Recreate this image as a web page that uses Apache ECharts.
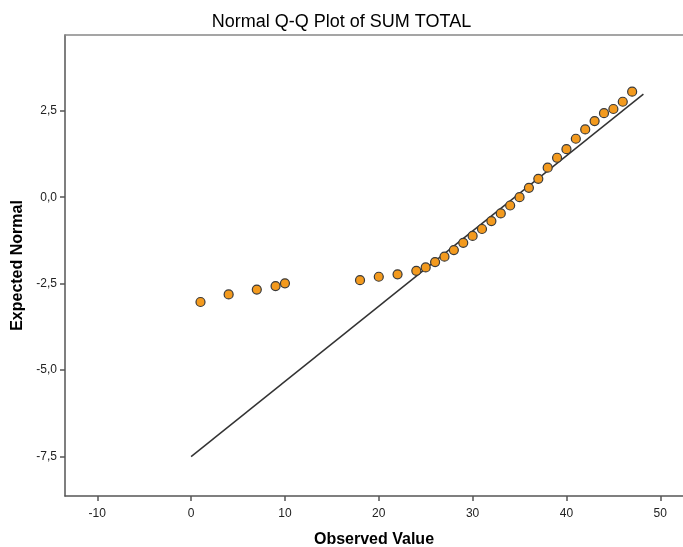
<!DOCTYPE html>
<html>
<head>
<meta charset="utf-8">
<script src="https://cdn.jsdelivr.net/npm/echarts@6/dist/echarts.min.js"></script>
<style>html,body{margin:0;padding:0;background:#fff}#c{width:683px;height:547px}</style>
</head>
<body>
<div id="c"></div>
<script>
var observed = [1, 4, 7, 9, 10, 18, 20, 22, 24, 25, 26, 27, 28, 29, 30, 31, 32, 33, 34, 35, 36, 37, 38, 39, 40, 41, 42, 43, 44, 45, 46, 47];
var expected = [-3.03, -2.81, -2.67, -2.57, -2.49, -2.40, -2.30, -2.23, -2.13, -2.03, -1.875, -1.72, -1.53, -1.32, -1.12, -0.92, -0.69, -0.47, -0.24, 0.0, 0.27, 0.53, 0.855, 1.14, 1.39, 1.69, 1.96, 2.20, 2.43, 2.55, 2.76, 3.05];
var lineX = [0, 48.2];
var lineY = [-7.5, 2.98];
var xTicks = [-10, 0, 10, 20, 30, 40, 50];
var yTicks = [-7.5, -5.0, -2.5, 0.0, 2.5];

var font = 'Liberation Sans, Arial, sans-serif';
var chart = echarts.init(document.getElementById('c'));
chart.setOption({
  animation: false,
  backgroundColor: '#fff',
  title: {
    text: 'Normal Q-Q Plot of SUM TOTAL',
    left: 'center', top: 8,
    textStyle: { fontFamily: font, fontSize: 18, fontWeight: 'normal', color: '#000' }
  },
  grid: { left: 65, right: 0, top: 35, bottom: 51, outerBoundsMode: 'none', containLabel: false },
  xAxis: [{
    type: 'value', min: -13.44, max: 52.42,
    name: 'Observed Value', nameLocation: 'middle', nameGap: 36,
    nameTextStyle: { fontFamily: font, fontSize: 16, fontWeight: 'bold', color: '#000' },
    splitLine: { show: false },
    axisLine: { onZero: false, lineStyle: { color: '#555', width: 1.5 } },
    axisTick: { customValues: xTicks, length: 5, lineStyle: { color: '#555', width: 1.5 } },
    axisLabel: { customValues: xTicks, margin: 12, fontFamily: font, fontSize: 12, color: '#222' }
  }, {
    type: 'value', position: 'top', min: -13.44, max: 52.42,
    splitLine: { show: false },
    axisLine: { show: true, onZero: false, lineStyle: { color: '#888', width: 1.5 } },
    axisTick: { show: false }, axisLabel: { show: false }
  }],
  yAxis: {
    type: 'value', min: -8.64, max: 4.69,
    name: 'Expected Normal', nameLocation: 'middle', nameGap: 38,
    nameTextStyle: { fontFamily: font, fontSize: 16, fontWeight: 'bold', color: '#000' },
    splitLine: { show: false },
    axisLine: { show: true, onZero: false, lineStyle: { color: '#555', width: 1.5 } },
    axisTick: { show: true, customValues: yTicks, length: 5, lineStyle: { color: '#555', width: 1.5 } },
    axisLabel: {
      customValues: yTicks, margin: 8, fontFamily: font, fontSize: 12, color: '#222',
      formatter: function (v) { return v.toFixed(1).replace('.', ','); }
    }
  },
  series: [{
    type: 'line',
    data: lineX.map(function (x, i) { return [x, lineY[i]]; }),
    symbol: 'none',
    lineStyle: { color: '#333', width: 1.5 },
    z: 2
  }, {
    type: 'scatter',
    data: observed.map(function (x, i) { return [x, expected[i]]; }),
    symbol: 'circle', symbolSize: 9,
    itemStyle: { color: '#f39a1e', borderColor: '#3a3a3a', borderWidth: 1.2, opacity: 1 },
    z: 3
  }]
});
</script>
</body>
</html>
